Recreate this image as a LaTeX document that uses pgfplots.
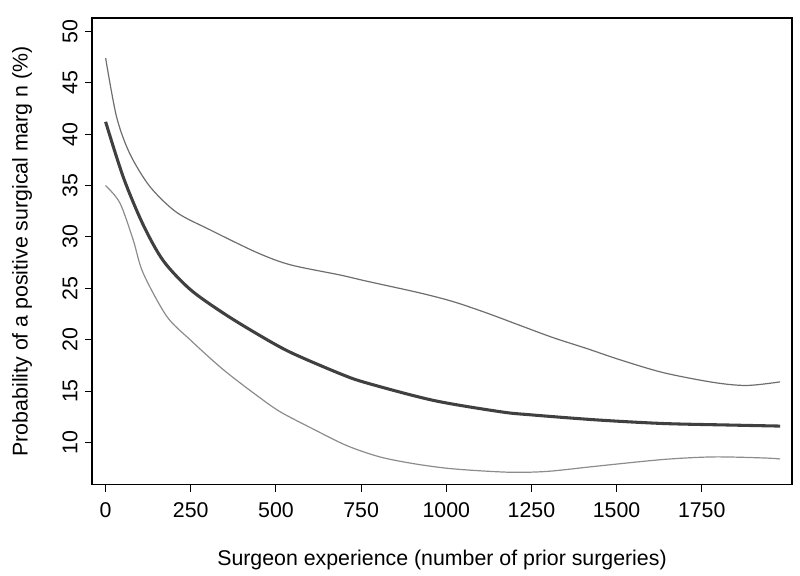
\documentclass[border=0pt]{standalone}
\usepackage{fontspec}
\setmainfont{Liberation Sans}
\usepackage{pgfplots}
\pgfplotsset{compat=1.18}

\definecolor{midcurve}{HTML}{404040}
\definecolor{upcurve}{HTML}{6E6E6E}
\definecolor{lowcurve}{HTML}{8C8C8C}

\begin{document}
\begin{tikzpicture}
\begin{axis}[
    scale only axis,
    width=525pt, height=350pt,
    xmin=-40, xmax=2015,
    ymin=5.9, ymax=51.3,
    xtick={0,250,...,1750},
    ytick={10,15,...,50},
    xtick pos=left, ytick pos=left,
    tick align=outside,
    major tick length=5.25pt,
    tick style={black, line width=0.8pt},
    axis line style={line width=1pt},
    font=\fontsize{16}{19}\selectfont,
    /pgf/number format/assume math mode=true,
    /pgf/number format/1000 sep={},
    yticklabel style={rotate=90, anchor=south, yshift=2pt},
    xticklabel style={yshift=-5pt},
    xlabel={Surgeon experience (number of prior surgeries)},
    ylabel={Probability of a positive surgical marg n (\%)},
    xlabel style={yshift=-17pt},
    ylabel style={yshift=16pt},
]
% upper bound
\addplot[upcurve, line width=0.9pt, smooth] coordinates {
 (0,47.4) (32,41.7) (71,38.1) (130,34.9) (208,32.4) (306,30.7) (443,28.5)
 (541,27.3) (688,26.3) (766,25.7) (923,24.55) (1021,23.7) (1119,22.6)
 (1216,21.4) (1314,20.2) (1412,19.15) (1510,18.05) (1637,16.8) (1784,15.85)
 (1882,15.55) (1980,15.9)
};
% estimate
\addplot[midcurve, line width=2.3pt, smooth] coordinates {
 (0,41.2) (52,35.8) (110,31.2) (169,27.7) (248,24.9) (345,22.6) (443,20.6)
 (541,18.8) (688,16.7) (766,15.8) (962,14.1) (1158,13.0) (1246,12.7)
 (1442,12.2) (1637,11.85) (1833,11.7) (1980,11.6)
};
% lower bound
\addplot[lowcurve, line width=0.9pt, smooth] coordinates {
 (0,35.0) (42,33.3) (81,29.7) (110,26.5) (179,22.3) (248,20.0) (345,17.1)
 (443,14.6) (512,13.0) (610,11.3) (708,9.7) (805,8.6) (903,7.95) (1001,7.5)
 (1099,7.25) (1200,7.1) (1300,7.2) (1442,7.7) (1637,8.35) (1784,8.6)
 (1931,8.5) (1980,8.4)
};
\end{axis}
\path (-69pt,-68.25pt) rectangle (531pt,363.5pt);
\end{tikzpicture}
\end{document}
